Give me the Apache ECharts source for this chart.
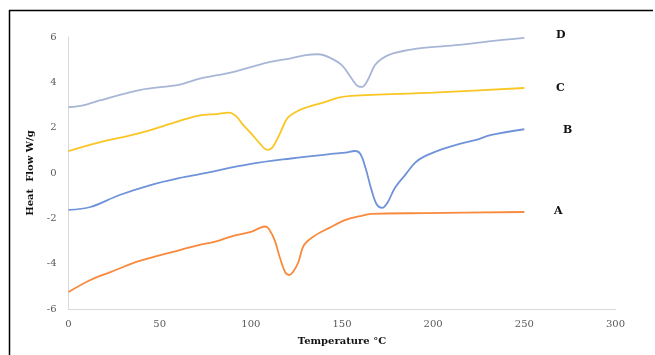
<!DOCTYPE html>
<html><head><meta charset="utf-8">
<script src="https://cdn.jsdelivr.net/npm/echarts@6/dist/echarts.min.js"></script>
<style>html,body{margin:0;padding:0;background:#fff}#c{width:655px;height:355px}</style>
</head><body><div id="c"></div>
<script>
const xTicks = [0, 50, 100, 150, 200, 250, 300];
const seriesNames = ['A', 'B', 'C', 'D'];
const dataA = [[0,-5.25],[12,-4.72],[23,-4.37],[39,-3.88],[61,-3.4],[72,-3.17],[81,-3.02],[90,-2.78],[100,-2.6],[105,-2.42],[108,-2.36],[110,-2.48],[113,-2.95],[116,-3.75],[119,-4.4],[121,-4.5],[123,-4.38],[126,-3.95],[129,-3.2],[134,-2.82],[143,-2.42],[152,-2.07],[160,-1.9],[166,-1.8],[196,-1.77],[250,-1.72]];
const dataB = [[0,-1.63],[12,-1.5],[28,-0.97],[45,-0.53],[61,-0.22],[72,-0.05],[100,0.4],[122,0.64],[144,0.84],[152,0.9],[157,0.97],[160,0.85],[163,0.2],[166,-0.7],[169,-1.38],[172,-1.54],[175,-1.3],[179,-0.66],[185,-0.05],[190,0.45],[195,0.72],[205,1.05],[215,1.3],[223,1.45],[232,1.68],[250,1.93]];
const dataC = [[0,0.97],[17,1.35],[39,1.76],[61,2.3],[72,2.54],[81,2.6],[88,2.66],[92,2.5],[96,2.1],[100,1.76],[105,1.3],[109,1.02],[112,1.15],[116,1.75],[120,2.42],[124,2.66],[130,2.88],[141,3.14],[148,3.32],[155,3.4],[200,3.55],[250,3.75]];
const dataD = [[0,2.9],[8,2.98],[17,3.2],[39,3.66],[61,3.9],[72,4.16],[90,4.45],[109,4.87],[122,5.06],[130,5.2],[137,5.24],[143,5.1],[150,4.75],[155,4.2],[159,3.82],[161,3.8],[164,4.08],[168,4.75],[172,5.05],[178,5.28],[192,5.5],[214,5.65],[232,5.82],[250,5.96]];
const colors = ['#F8893D', '#6F93D9', '#F9C623', '#A8B6D6'];
const serif = '"DejaVu Serif", "Liberation Serif", serif';

const chart = echarts.init(document.getElementById('c'));
const datasets = [dataA, dataB, dataC, dataD];
chart.setOption({
  animation: false,
  grid: {left: 68.5, right: 39.5, top: 37, bottom: 46},
  xAxis: {
    type: 'value', min: 0, max: 300, interval: 50,
    name: 'Temperature °C', nameLocation: 'middle', nameGap: 27,
    nameTextStyle: {fontFamily: serif, fontWeight: 'bold', fontSize: 10, color: '#111'},
    axisLine: {onZero: false, lineStyle: {color: '#D9D9D9'}},
    axisTick: {show: false}, splitLine: {show: false},
    axisLabel: {fontFamily: serif, fontSize: 10, color: '#595959', margin: 10}
  },
  yAxis: {
    type: 'value', min: -6, max: 6, interval: 2,
    name: 'Heat  Flow W/g', nameLocation: 'middle', nameGap: 33,
    nameTextStyle: {fontFamily: serif, fontWeight: 'bold', fontSize: 10, color: '#111'},
    axisLine: {show: true, onZero: false, lineStyle: {color: '#D9D9D9'}},
    axisTick: {show: false}, splitLine: {show: false},
    axisLabel: {fontFamily: serif, fontSize: 10, color: '#595959', margin: 12}
  },
  series: datasets.map((d, i) => ({
    name: seriesNames[i], type: 'line', data: d, smooth: 0.35, showSymbol: false,
    lineStyle: {color: colors[i], width: 1.8}, itemStyle: {color: colors[i]}
  })),
  graphic: [
    {type: 'line', shape: {x1: 9.5, y1: 10, x2: 9.5, y2: 355}, style: {stroke: '#000', lineWidth: 1.5}},
    {type: 'line', shape: {x1: 9, y1: 10.5, x2: 653, y2: 10.5}, style: {stroke: '#000', lineWidth: 1.5}},
    {type: 'text', left: 556, top: 30, style: {text: 'D', font: 'bold 11px ' + serif, fill: '#111'}},
    {type: 'text', left: 556, top: 83, style: {text: 'C', font: 'bold 11px ' + serif, fill: '#111'}},
    {type: 'text', left: 563, top: 125, style: {text: 'B', font: 'bold 11px ' + serif, fill: '#111'}},
    {type: 'text', left: 554, top: 206, style: {text: 'A', font: 'bold 11px ' + serif, fill: '#111'}}
  ]
});
</script></body></html>
